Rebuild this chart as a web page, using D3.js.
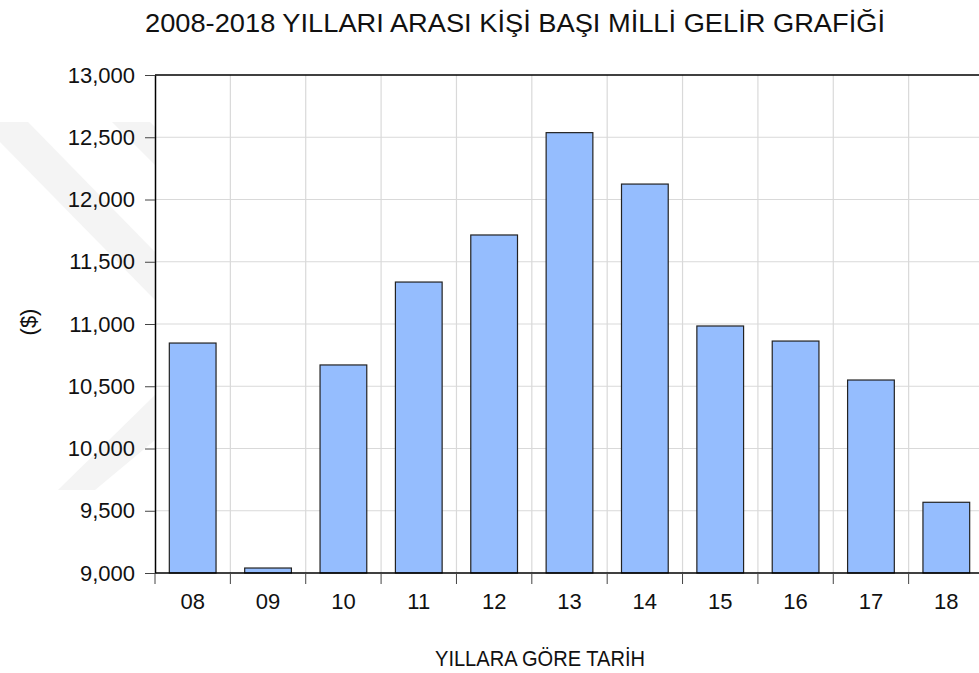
<!DOCTYPE html>
<html>
<head>
<meta charset="utf-8">
<script src="https://cdn.jsdelivr.net/npm/d3@7"></script>
<style>
  body { margin: 0; background: #fff; }
  text { font-family: "Liberation Sans", Arial, sans-serif; }
</style>
</head>
<body>
<svg id="chart" width="979" height="673"></svg>
<script>
// data
var years = ["08", "09", "10", "11", "12", "13", "14", "15", "16", "17", "18"];
var income = [10847, 9040, 10671, 11337, 11715, 12537, 12124, 10984, 10863, 10550, 9568];
var yTicks = [9000, 9500, 10000, 10500, 11000, 11500, 12000, 12500, 13000];

var svg = d3.select("#chart"),
    margin = { top: 75, right: -5, bottom: 100, left: 155 },
    width = 979 - margin.left - margin.right,
    height = 673 - margin.top - margin.bottom;

var formatValue = d3.format(",d");

// faint watermark in the left margin
var wm = svg.append("g").attr("fill", "#f4f4f4");
wm.append("polygon").attr("points", "0,122 28,122 155,252 155,300 0,142");
wm.append("polygon").attr("points", "112,122 150,122 155,127 155,165");
wm.append("polygon").attr("points", "155,395 155,440 95,490 58,490");

var x = d3.scaleBand()
    .domain(years)
    .range([0, width])
    .paddingInner(0.38)
    .paddingOuter(0.19);

var y = d3.scaleLinear()
    .domain([9000, 13000])
    .range([height, 0]);

var g = svg.append("g")
    .attr("transform", "translate(" + margin.left + "," + margin.top + ")");

g.append("rect")
    .attr("width", width)
    .attr("height", height)
    .attr("fill", "#fff");

// grid
var step = x.step();
g.append("g")
    .selectAll("line").data(years.slice(1)).enter().append("line")
    .attr("x1", function(d) { return x(d) - x.paddingInner() * step / 2; })
    .attr("x2", function(d) { return x(d) - x.paddingInner() * step / 2; })
    .attr("y1", 0)
    .attr("y2", height)
    .attr("stroke", "#d9d9d9")
    .attr("stroke-width", 1.2);

g.append("g")
    .selectAll("line").data(yTicks.slice(1, -1)).enter().append("line")
    .attr("x1", 0)
    .attr("x2", width)
    .attr("y1", function(d) { return y(d); })
    .attr("y2", function(d) { return y(d); })
    .attr("stroke", "#d9d9d9")
    .attr("stroke-width", 1.2);

// bars
g.append("g")
    .selectAll("rect").data(years).enter().append("rect")
    .attr("x", function(d) { return x(d); })
    .attr("width", x.bandwidth())
    .attr("y", function(d, i) { return y(income[i]); })
    .attr("height", function(d, i) { return height - y(income[i]); })
    .attr("fill", "#95bdfe")
    .attr("stroke", "#222")
    .attr("stroke-width", 1.2);

// frame
g.append("line").attr("x1", 0).attr("x2", width).attr("y1", 0).attr("y2", 0)
    .attr("stroke", "#000").attr("stroke-width", 1.5);

var yAxis = g.append("g")
    .call(d3.axisLeft(y).tickValues(yTicks).tickFormat(formatValue).tickSize(10).tickSizeOuter(0));
yAxis.select(".domain").attr("stroke", "#000").attr("stroke-width", 1.5);
yAxis.selectAll(".tick line").attr("stroke", "#444");
yAxis.selectAll(".tick text")
    .attr("x", -20)
    .attr("font-size", 22)
    .attr("font-family", "Liberation Sans, Arial, sans-serif")
    .attr("fill", "#111");

var bounds = years.map(function(d) { return x(d) - x.paddingInner() * step / 2; });
bounds[0] = 0;
var xg = g.append("g").attr("transform", "translate(0," + height + ")");
xg.append("line").attr("x1", 0).attr("x2", width)
    .attr("stroke", "#000").attr("stroke-width", 1.5);
xg.selectAll(".tk").data(bounds).enter().append("line")
    .attr("class", "tk")
    .attr("x1", function(d) { return d; })
    .attr("x2", function(d) { return d; })
    .attr("y1", 0)
    .attr("y2", 11)
    .attr("stroke", "#444");
xg.selectAll("text").data(years).enter().append("text")
    .attr("x", function(d) { return x(d) + x.bandwidth() / 2; })
    .attr("y", 36)
    .attr("text-anchor", "middle")
    .attr("font-size", 22)
    .attr("fill", "#111")
    .text(function(d) { return d; });

// titles
svg.append("text")
    .attr("x", 145)
    .attr("y", 32)
    .attr("font-size", 26)
    .attr("textLength", 740)
    .attr("lengthAdjust", "spacingAndGlyphs")
    .attr("fill", "#111")
    .text("2008-2018 YILLARI ARASI KİŞİ BAŞI MİLLİ GELİR GRAFİĞİ");

svg.append("text")
    .attr("x", 435)
    .attr("y", 666)
    .attr("font-size", 22)
    .attr("textLength", 210)
    .attr("lengthAdjust", "spacingAndGlyphs")
    .attr("fill", "#111")
    .text("YILLARA GÖRE TARİH");

svg.append("text")
    .attr("transform", "translate(36,322) rotate(-90)")
    .attr("text-anchor", "middle")
    .attr("font-size", 22)
    .attr("fill", "#111")
    .text("($)");
</script>
</body>
</html>
